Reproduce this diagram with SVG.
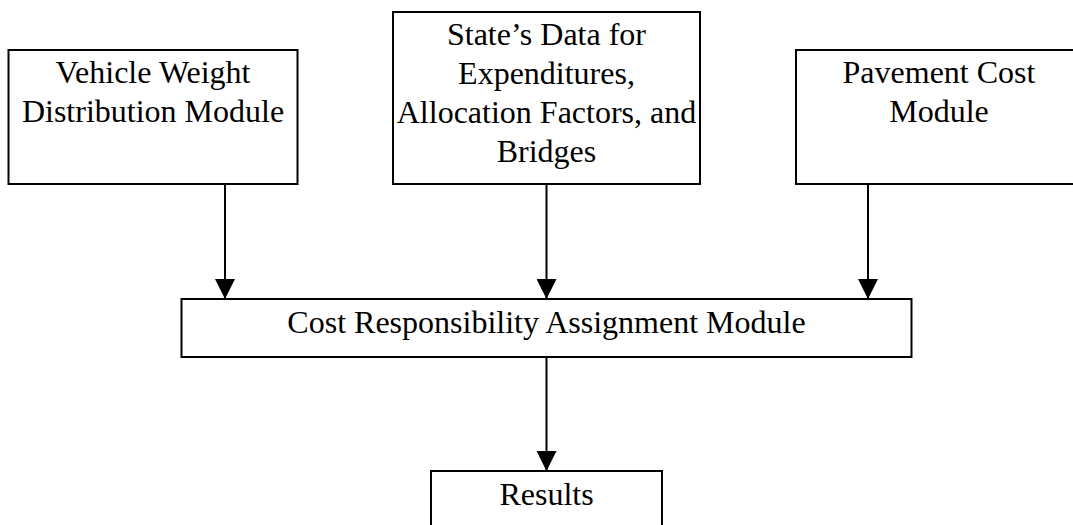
<svg xmlns="http://www.w3.org/2000/svg" width="1073" height="525" viewBox="0 0 1073 525">
<style>
.box{fill:#fff;stroke:#000;stroke-width:2}
.t{font-family:"Liberation Serif","Times New Roman",serif;font-size:32px;fill:#000;text-anchor:middle}
.c{stroke:#000;stroke-width:2;fill:none}
</style>
<defs>
<marker id="ah" viewBox="0 0 20 20" refX="20" refY="10" markerWidth="20" markerHeight="20" markerUnits="userSpaceOnUse" orient="auto">
<path d="M0,0 L20,10 L0,20 Z" fill="#000"/>
</marker>
</defs>
<rect width="1073" height="525" fill="#fff"/>
<g id="connectors">
<line class="c" x1="225" y1="184" x2="225" y2="299" marker-end="url(#ah)"/>
<line class="c" x1="546.5" y1="184" x2="546.5" y2="299" marker-end="url(#ah)"/>
<line class="c" x1="868" y1="184" x2="868" y2="299" marker-end="url(#ah)"/>
<line class="c" x1="546.5" y1="357" x2="546.5" y2="471" marker-end="url(#ah)"/>
</g>
<g id="vehicle">
<rect class="box" x="8.5" y="50" width="289" height="134"/>
<text class="t" x="153" y="83">Vehicle Weight</text>
<text class="t" x="153" y="122">Distribution Module</text>
</g>
<g id="state">
<rect class="box" x="393" y="12" width="307" height="172"/>
<text class="t" x="546.5" y="45">State’s Data for</text>
<text class="t" x="546.5" y="84">Expenditures,</text>
<text class="t" x="546.5" y="123">Allocation Factors, and</text>
<text class="t" x="546.5" y="162">Bridges</text>
</g>
<g id="pavement">
<rect class="box" x="796" y="50" width="286" height="134"/>
<text class="t" x="939" y="83">Pavement Cost</text>
<text class="t" x="939" y="122">Module</text>
</g>
<g id="cram">
<rect class="box" x="181.5" y="299" width="730" height="58"/>
<text class="t" x="546.5" y="333">Cost Responsibility Assignment Module</text>
</g>
<g id="results">
<rect class="box" x="431" y="471" width="231" height="70"/>
<text class="t" x="546.5" y="505">Results</text>
</g>
</svg>
